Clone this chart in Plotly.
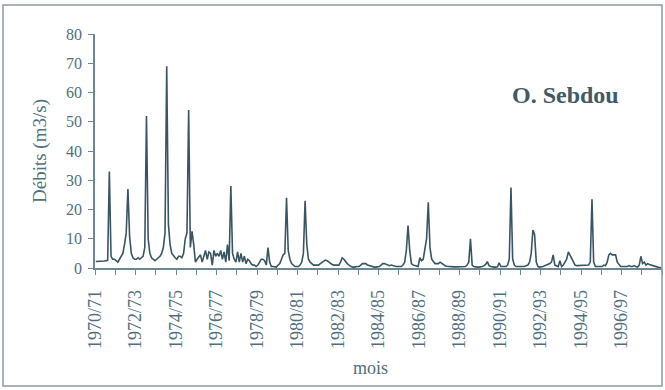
import plotly.graph_objects as go

# Monthly discharge (m3/s), hydrological years Sept-Aug, 1970/71 .. 1997/98
debits = [
    2.2, 2.2, 2.3, 2.3, 2.4, 2.4, 2.5, 2.6, 33.0, 4.0, 3.0, 3.0,          # 1970/71
    2.5, 2.0, 3.0, 4.0, 5.0, 8.0, 12.0, 27.0, 11.0, 5.0, 3.5, 3.0,       # 1971/72
    3.0, 3.5, 3.0, 3.5, 4.0, 7.0, 52.0, 10.0, 5.0, 3.5, 3.0, 2.5,        # 1972/73
    3.0, 3.5, 4.0, 5.0, 7.0, 12.0, 69.0, 15.0, 8.0, 5.0, 4.0, 3.5,       # 1973/74
    3.0, 4.0, 4.0, 3.5, 5.0, 10.0, 12.0, 54.0, 7.0, 12.5, 8.0, 2.0,      # 1974/75
    3.0, 4.0, 4.5, 2.0, 4.0, 6.0, 3.0, 5.5, 5.0, 1.0, 6.0, 4.0,          # 1975/76
    5.0, 4.0, 6.0, 3.0, 5.5, 2.0, 8.0, 2.5, 28.0, 5.0, 3.0, 2.0,         # 1976/77
    5.5, 2.0, 5.0, 2.0, 4.0, 1.5, 3.0, 2.5, 1.5, 1.0, 1.0, 0.5,          # 1977/78
    1.0, 2.0, 3.0, 3.0, 2.5, 1.0, 7.0, 2.0, 0.5, 0.5, 0.5, 0.3,          # 1978/79
    1.0, 1.5, 3.0, 4.5, 5.0, 24.0, 6.0, 3.0, 1.5, 1.0, 0.5, 0.5,         # 1979/80
    0.5, 1.0, 2.0, 5.0, 23.0, 8.0, 3.0, 2.0, 1.5, 1.0, 1.0, 1.0,         # 1980/81
    1.0, 1.5, 2.0, 2.5, 2.7, 2.5, 2.0, 1.5, 1.2, 1.0, 1.0, 0.8,          # 1981/82
    1.0, 2.0, 3.5, 3.0, 2.0, 1.5, 1.0, 0.5, 0.3, 0.3, 0.5, 0.5,          # 1982/83
    0.5, 1.0, 1.5, 1.5, 1.5, 1.0, 0.8, 0.5, 0.3, 0.3, 0.3, 0.3,          # 1983/84
    0.5, 1.0, 1.5, 1.5, 1.2, 1.0, 0.8, 1.0, 0.8, 0.5, 0.5, 0.5,          # 1984/85
    0.5, 0.5, 1.0, 2.0, 6.0, 14.5, 6.0, 1.5, 1.0, 0.8, 0.6, 0.5,         # 1985/86
    3.5, 2.5, 3.0, 7.0, 10.0, 22.5, 7.0, 3.0, 2.0, 1.5, 1.5, 1.5,        # 1986/87
    2.0, 1.5, 1.0, 0.8, 0.6, 0.5, 0.5, 0.5, 0.4, 0.4, 0.4, 0.4,          # 1987/88
    0.4, 0.3, 0.5, 0.5, 1.0, 2.0, 10.0, 1.0, 0.5, 0.3, 0.3, 0.3,         # 1988/89
    0.3, 0.5, 0.8, 1.2, 2.2, 0.8, 0.5, 0.3, 0.3, 0.3, 0.4, 1.8,          # 1989/90
    0.5, 0.5, 0.5, 0.5, 1.0, 3.0, 27.5, 3.0, 1.0, 0.5, 0.5, 0.5,         # 1990/91
    0.3, 0.3, 0.5, 0.8, 1.0, 2.0, 5.0, 13.0, 11.5, 2.0, 0.5, 0.3,        # 1991/92
    0.3, 0.5, 0.8, 1.0, 1.2, 1.5, 2.0, 4.5, 1.0, 0.8, 0.5, 2.5,          # 1992/93
    0.5, 1.0, 2.0, 3.0, 5.5, 4.5, 3.5, 2.0, 1.0, 0.8, 0.8, 0.8,          # 1993/94
    0.8, 1.0, 1.0, 1.0, 1.0, 2.0, 23.5, 2.0, 0.5, 0.5, 0.5, 0.5,         # 1994/95
    0.5, 1.0, 0.8, 2.0, 4.5, 5.0, 4.5, 4.5, 4.5, 2.0, 1.0, 0.5,          # 1995/96
    0.5, 0.5, 0.5, 0.5, 0.8, 0.5, 0.5, 0.8, 0.5, 0.3, 1.0, 4.0,          # 1996/97
    1.5, 2.0, 1.0, 1.5, 1.2, 1.0, 0.8, 0.5, 0.3, 0.3, 0.2, 0.1,          # 1997/98
]

year_labels = ["1970/71", "1972/73", "1974/75", "1976/77", "1978/79", "1980/81",
               "1982/83", "1984/85", "1986/87", "1988/89", "1990/91", "1992/93",
               "1994/95", "1996/97"]
y_ticks = [0, 10, 20, 30, 40, 50, 60, 70, 80]

n_months = len(debits)
n_years = n_months // 12
x_vals = [i + 0.5 for i in range(n_months)]

tick_pos = [12 * k for k in range(n_years + 1)]
tick_text = []
for k in range(n_years + 1):
    if k % 2 == 0 and k // 2 < len(year_labels):
        tick_text.append(year_labels[k // 2])
    else:
        tick_text.append("")

text_col = "#4f6f7e"
axis_col = "#6b8794"
line_col = "#3a5562"
serif = "Times New Roman, Times, serif"

fig = go.Figure()
fig.add_trace(go.Scatter(x=x_vals, y=debits, mode="lines",
                         line=dict(color=line_col, width=1.6),
                         showlegend=False, hoverinfo="skip"))

W, H = 665, 390
L, R, T, B = 95, 3, 34, 122
pw = W - L - R
ph = H - T - B


def px(x):
    return (x - L) / pw


def py(y):
    return (T + ph - y) / ph


fig.update_layout(
    width=W, height=H,
    margin=dict(l=L, r=R, t=T, b=B),
    paper_bgcolor="white", plot_bgcolor="white",
    font=dict(family=serif, color=text_col),
    xaxis=dict(range=[0, n_months], tickmode="array", tickvals=tick_pos,
               ticktext=tick_text, tickangle=-90, ticks="outside", ticklen=5,
               tickcolor=axis_col, showline=True, linecolor=axis_col, linewidth=1.5,
               showgrid=False, zeroline=False,
               tickfont=dict(size=18, color=text_col, family=serif),
               ticklabelstandoff=8),
    yaxis=dict(range=[0, 80], tickmode="array", tickvals=y_ticks,
               ticks="outside", ticklen=5, tickcolor=axis_col, showline=True,
               linecolor=axis_col, linewidth=1.5, showgrid=False, zeroline=False,
               tickfont=dict(size=16, color=text_col, family=serif),
               ticklabelstandoff=3),
    annotations=[
        dict(text="<b>O. Sebdou</b>", x=px(565), y=py(95),
             xref="paper", yref="paper", showarrow=False,
             xanchor="center", yanchor="middle",
             font=dict(size=24, color="#3f5a68", family=serif)),
        dict(text="Débits (m3/s)", x=px(40), y=py(151),
             xref="paper", yref="paper", showarrow=False, textangle=-90,
             xanchor="center", yanchor="middle",
             font=dict(size=19, color=text_col, family=serif)),
        dict(text="mois", x=px(370), y=py(368),
             xref="paper", yref="paper", showarrow=False,
             xanchor="center", yanchor="middle",
             font=dict(size=18, color=text_col, family=serif)),
    ],
    shapes=[
        dict(type="rect", xref="paper", yref="paper",
             x0=px(3), x1=px(662), y0=py(386), y1=py(5),
             line=dict(color="#8a9aa2", width=1.5), fillcolor="rgba(0,0,0,0)",
             layer="above"),
    ],
)

fig.write_html("out.html", config={"displayModeBar": False},
               post_script="document.body.style.margin='0px';document.body.style.overflow='hidden';")
